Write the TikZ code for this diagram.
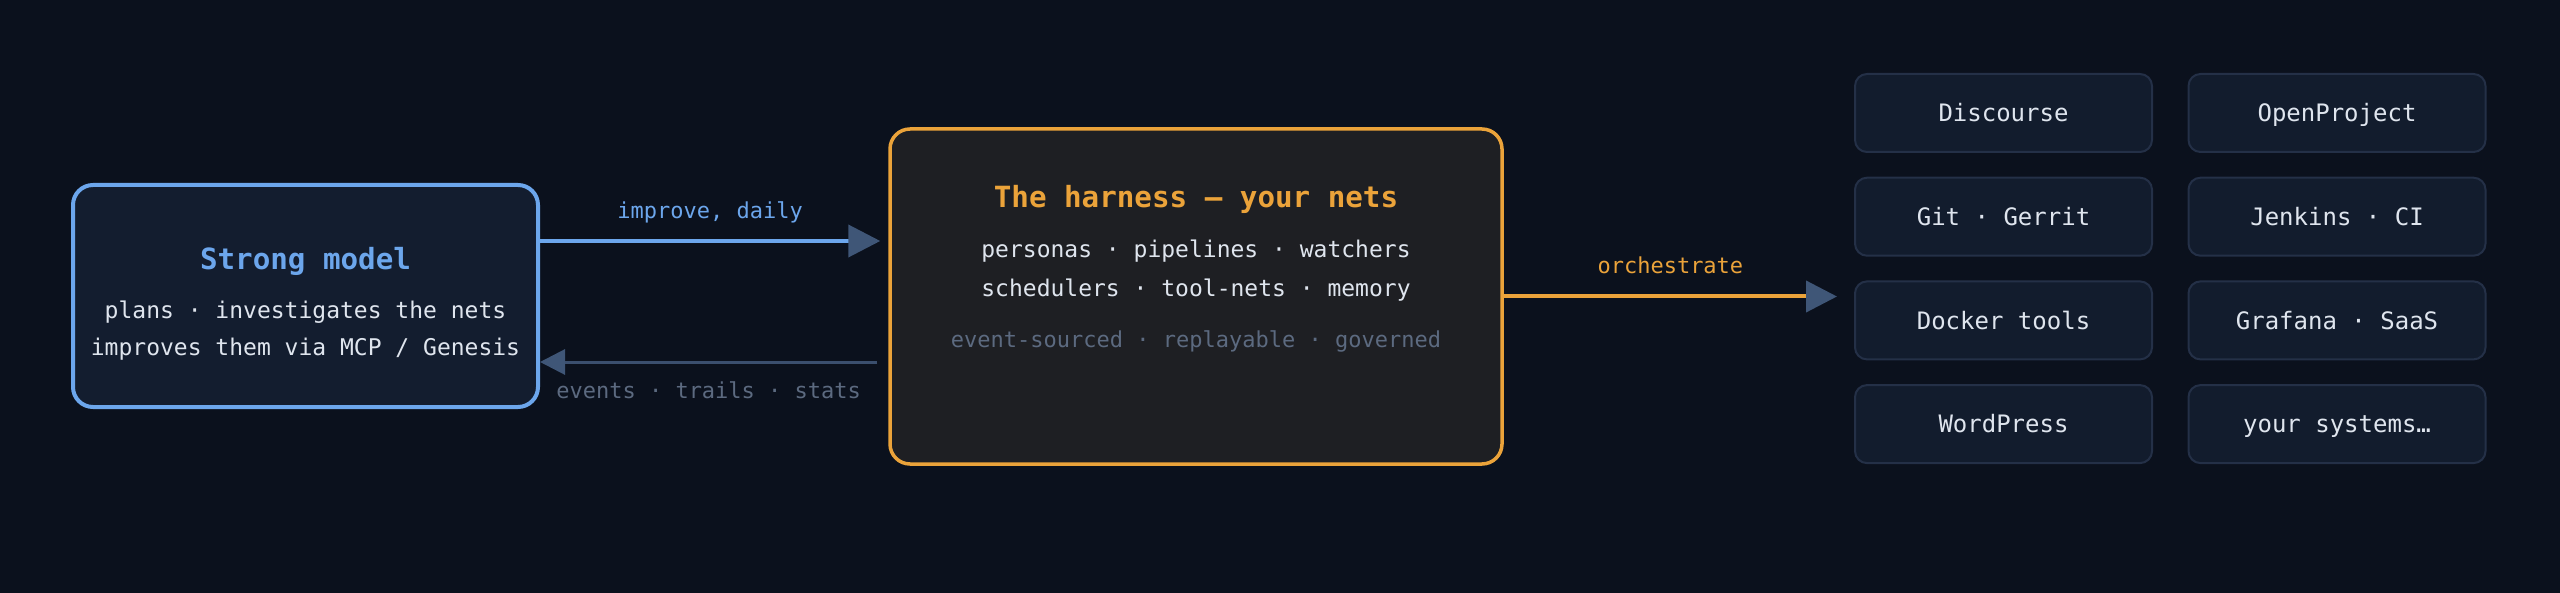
\documentclass[tikz,border=0pt]{standalone}
\usepackage{fontspec}
\setmainfont{DejaVu Sans Mono}
\usetikzlibrary{arrows.meta,calc}

\definecolor{bg}{HTML}{0B111D}
\definecolor{modelfill}{HTML}{131D2F}
\definecolor{modelblue}{HTML}{6CA6EC}
\definecolor{harnessfill}{HTML}{1E1F23}
\definecolor{harnessorange}{HTML}{EBA33A}
\definecolor{sysfill}{HTML}{121C2D}
\definecolor{sysborder}{HTML}{243047}
\definecolor{textlight}{HTML}{DFE5EE}
\definecolor{textgray}{HTML}{5C6A80}
\definecolor{slateline}{HTML}{3B4F6E}
\definecolor{slatehead}{HTML}{3F5677}

\tikzset{
  box/.style={draw, line width=2pt, rounded corners=10pt, inner sep=0pt},
  boxtitle/.style={font=\bfseries\fontsize{14.6}{16}\selectfont, anchor=base, inner sep=0pt},
  body/.style={font=\fontsize{11.5}{13}\selectfont, text=textlight, anchor=base, inner sep=0pt},
  lbl/.style={font=\fontsize{11}{12}\selectfont, anchor=base, inner sep=0pt},
  sysbox/.style={draw=sysborder, line width=1pt, fill=sysfill, rounded corners=6pt,
    minimum width=148.5pt, minimum height=39pt, inner sep=0pt,
    text height=8.75pt, text depth=0pt, text=textlight, font=\fontsize{12}{13}\selectfont},
  improve/.style={draw=modelblue, line width=2pt, -{Triangle[length=16pt,width=16pt,color=slatehead]}},
  feedback/.style={draw=slateline, line width=1.5pt, -{Triangle[length=12.5pt,width=12.5pt,color=slatehead]}},
  orch/.style={draw=harnessorange, line width=2pt, -{Triangle[length=15.5pt,width=15.5pt,color=slatehead]}},
}

\begin{document}
\begin{tikzpicture}[x=0.5pt,y=-0.5pt]
\fill[bg] (0,0) rectangle (2560,593); % background

% strong model
\node[box, draw=modelblue, fill=modelfill, minimum width=232.5pt, minimum height=111pt] (strong) at (305.5,296) {};
\node[boxtitle, text=modelblue] (strongtitle) at ($(strong.center)+(0,-26)$) {Strong model};
\node[body] (stronglineA) at ($(strong.center)+(0,23)$) {plans · investigates the nets};
\node[body] (stronglineB) at ($(strong.center)+(0,60)$) {improves them via MCP / Genesis};

% the harness
\node[box, draw=harnessorange, fill=harnessfill, line width=1.75pt, minimum width=306pt, minimum height=167.5pt] (harness) at (1196,296.5) {};
\node[boxtitle, text=harnessorange] (harnesstitle) at ($(harness.center)+(0,-88.5)$) {The harness — your nets};
\node[body] (harnesslineA) at ($(harness.center)+(0,-38.5)$) {personas · pipelines · watchers};
\node[body] (harnesslineB) at ($(harness.center)+(0,0)$) {schedulers · tool-nets · memory};
\node[lbl, text=textgray] (harnessnote) at ($(harness.center)+(0,51.5)$) {event-sourced · replayable · governed};

% systems
\foreach \col/\row/\nm/\txt in {0/0/discourse/Discourse, 1/0/openproject/OpenProject,
    0/1/gerrit/Git · Gerrit, 1/1/jenkins/Jenkins · CI,
    0/2/docker/Docker tools, 1/2/grafana/Grafana · SaaS,
    0/3/wordpress/WordPress, 1/3/yoursystems/your systems…}
  \node[sysbox] (\nm) at ({2003.5+333.5*\col},{113+103.7*\row}) {\txt};

% connectors
\draw[improve] ($(strong.east)+(0,-55)$) -- ($(harness.west)+(-8,-55.5)$)
  node[midway, lbl, text=modelblue, yshift=11pt] (improvelabel) {improve, daily};
\draw[feedback] ($(harness.west)+(-11,65.5)$) -- ($(strong.east)+(0,66)$)
  node[midway, lbl, text=textgray, yshift=-18pt] (feedbacklabel) {events · trails · stats};
\coordinate (orchtip) at ($(docker.west)+(-17,0)$);
\draw[orch] (harness.east) -- (harness.east -| orchtip)
  node[midway, lbl, text=harnessorange, yshift=11.25pt] (orchlabel) {orchestrate};
\end{tikzpicture}
\end{document}
